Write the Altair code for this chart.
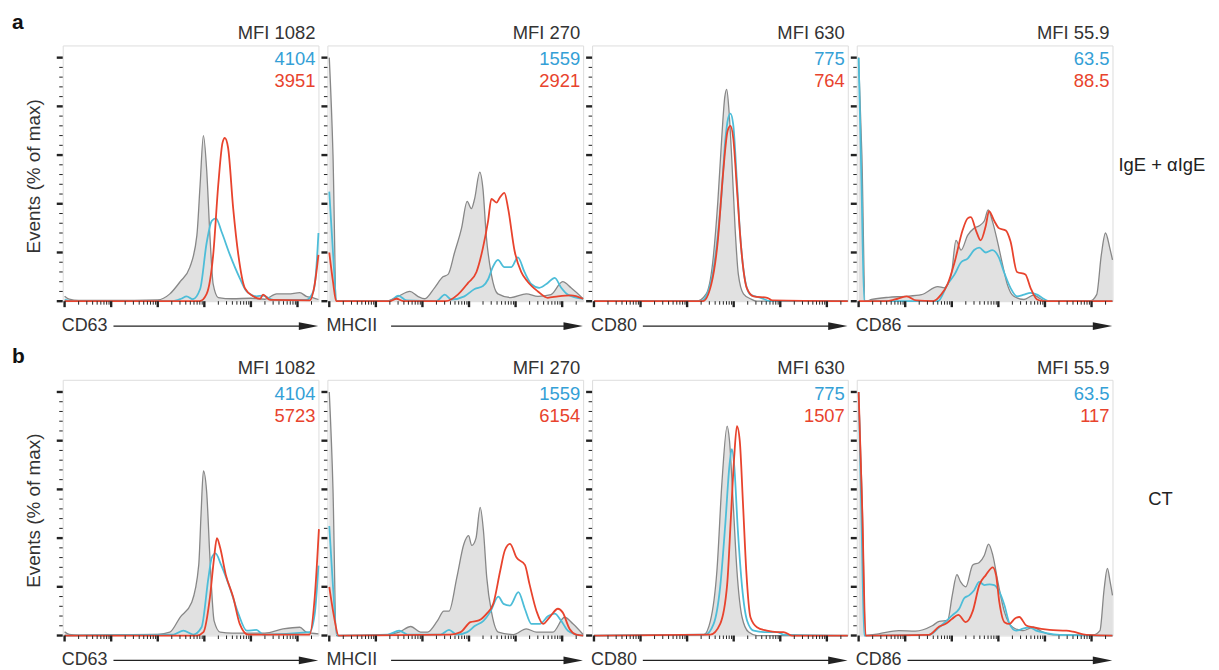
import math
import altair as alt
import pandas as pd

# ---------------- data (x in log10 decades, y in % of max) ----------------
MARKERS = ["CD63", "MHCII", "CD80", "CD86"]
MFI_CTRL = ["MFI 1082", "MFI 270", "MFI 630", "MFI 55.9"]
MFI_BLUE = ["4104", "1559", "775", "63.5"]
MFI_RED_A = ["3951", "2921", "764", "88.5"]
MFI_RED_B = ["5723", "6154", "1507", "117"]
ROW_TAGS = ["a", "b"]
ROW_LABELS = ["IgE + \u03b1IgE", "CT"]
Y_TITLE = "Events (% of max)"

A1_GRAY = [(0, 2), (0.1, 0.8), (0.3, 0.3), (1.5, 0.3), (2.0, 0.5), (2.26, 3), (2.48, 8), (2.69, 14), (2.84, 27),
           (2.91, 48), (2.98, 68), (3.05, 54), (3.12, 27), (3.19, 7), (3.3, 1.5), (3.6, 1), (4.0, 1.2), (4.3, 0.8),
           (4.55, 3), (4.8, 3), (5.05, 3.5), (5.19, 2), (5.34, 1.4), (5.45, 0.7)]
A1_BLUE = [(0, 0.5), (0.2, 0), (2.3, 0), (2.5, 1), (2.62, 2), (2.75, 0.8), (2.91, 5), (3.05, 24), (3.16, 33),
           (3.25, 34), (3.37, 28.5), (3.55, 19), (3.76, 9.5), (3.91, 4), (4.12, 2), (4.26, 2.3), (4.48, 0.5),
           (5.19, 0.5), (5.34, 4), (5.41, 15), (5.45, 28)]
A1_RED = [(0, 0), (2.9, 0), (3.05, 3), (3.19, 19), (3.3, 48), (3.39, 65), (3.44, 67), (3.51, 63), (3.62, 38),
          (3.73, 19), (3.87, 5.4), (4.05, 2), (4.2, 1), (4.26, 2.7), (4.41, 0.5), (5.26, 0.3), (5.37, 7), (5.45, 19)]

A2_GRAY = [(0, 100), (0.08, 60), (0.15, 0), (1.2, 0), (1.48, 2), (1.73, 4), (1.9, 2), (2.05, 1), (2.26, 5.5),
           (2.44, 10), (2.55, 11), (2.69, 20), (2.84, 30), (2.96, 41), (3.05, 38), (3.12, 42), (3.23, 53),
           (3.3, 46), (3.37, 27), (3.48, 11), (3.62, 3), (3.9, 1.5), (4.23, 3), (4.48, 2), (4.76, 2.7), (5.01, 8),
           (5.19, 5.5), (5.45, 1)]
A2_BLUE = [(0, 45), (0.08, 20), (0.16, 0), (1.3, 0), (1.48, 2.3), (1.66, 0.3), (2.3, 0), (2.48, 2.7), (2.62, 0.7),
           (2.9, 2), (3.12, 5), (3.3, 6.2), (3.41, 9), (3.51, 14), (3.62, 17), (3.76, 14), (3.91, 14), (4.05, 18),
           (4.19, 12), (4.34, 7), (4.51, 5.5), (4.69, 7.5), (4.84, 9.6), (4.98, 5.5), (5.12, 2.7), (5.45, 1)]
A2_RED = [(0, 20), (0.08, 8), (0.15, 0), (1.3, 0), (1.44, 1), (1.6, 0), (2.5, 0), (2.76, 2.7), (2.98, 7.5),
          (3.16, 12), (3.3, 22), (3.41, 33), (3.48, 42), (3.59, 40.5), (3.66, 42.5), (3.76, 44.5), (3.84, 38),
          (3.98, 20.5), (4.12, 12), (4.26, 8), (4.48, 4), (4.69, 1.4), (4.91, 2), (5.19, 2.4), (5.45, 1)]

A3_GRAY = [(0, 0), (2.2, 0), (2.41, 3), (2.55, 16), (2.66, 41), (2.74, 66), (2.81, 84), (2.85, 87), (2.9, 78),
           (2.96, 58), (3.03, 30), (3.1, 11), (3.21, 3), (3.36, 1), (3.5, 0), (5.45, 0)]
A3_BLUE = [(0, 0), (2.3, 0), (2.48, 5.5), (2.63, 22), (2.74, 44), (2.82, 66), (2.88, 75), (2.93, 77),
           (2.99, 72.5), (3.07, 49), (3.14, 27), (3.25, 8), (3.36, 2.7), (3.58, 1.4), (3.8, 0), (5.45, 0)]
A3_RED = [(0, 0), (2.34, 0), (2.52, 7), (2.66, 25), (2.77, 52), (2.87, 70), (2.93, 72), (2.99, 67), (3.07, 46),
          (3.16, 22), (3.28, 5.5), (3.43, 2), (3.72, 1.4), (3.83, 0.3), (5.45, 0)]

A4_GRAY = [(0, 100), (0.07, 60), (0.14, 0), (0.28, 0.7), (0.64, 1.6), (0.99, 2), (1.35, 2.7), (1.7, 6),
           (1.84, 5.5), (1.99, 11), (2.09, 25), (2.2, 21), (2.34, 27), (2.48, 30), (2.59, 31), (2.7, 33),
           (2.78, 37.5), (2.87, 33), (2.98, 24.6), (3.09, 15), (3.19, 7), (3.33, 2), (3.55, 0.7), (3.76, 2.5),
           (3.9, 1), (4.04, 0), (4.96, 0), (5.11, 2.7), (5.21, 19), (5.3, 28), (5.39, 22), (5.45, 17)]
A4_BLUE = [(0, 100), (0.06, 50), (0.12, 0), (1.7, 0), (1.91, 7), (2.06, 11), (2.2, 16), (2.34, 17.5), (2.48, 21),
           (2.59, 22), (2.73, 20), (2.87, 21), (3.01, 18), (3.12, 12), (3.26, 5.5), (3.4, 2), (3.55, 2.7),
           (3.69, 3.4), (3.83, 2.7), (3.97, 1), (4.1, 0), (5.45, 0)]
A4_RED = [(0, 0), (0.6, 0), (0.78, 0.7), (1.03, 2), (1.24, 0.3), (1.6, 0), (1.77, 2.7), (1.91, 7), (2.06, 16),
          (2.23, 29), (2.34, 34), (2.41, 34.5), (2.52, 29), (2.62, 25), (2.73, 31), (2.8, 37), (2.91, 33),
          (3.01, 30), (3.16, 29), (3.26, 24.6), (3.4, 12), (3.58, 11), (3.69, 5.5), (3.83, 0.7), (3.97, 0),
          (5.45, 0)]

B1_GRAY = [(0, 1.5), (0.1, 0.5), (0.3, 0.2), (2.0, 0.5), (2.26, 1.4), (2.48, 7.5), (2.73, 13.7), (2.88, 29),
           (2.93, 50), (2.98, 67.6), (3.05, 59), (3.12, 32), (3.21, 6), (3.34, 1.4), (3.6, 1), (4.3, 1),
           (4.69, 2.7), (5.05, 3.4), (5.19, 1.4), (5.45, 0.7)]
B1_BLUE = [(0, 0), (2.34, 0.4), (2.55, 2), (2.76, 0.4), (2.94, 3.4), (3.09, 24), (3.16, 32), (3.24, 33.7),
           (3.36, 29), (3.54, 20), (3.73, 9), (3.91, 2), (4.12, 2.3), (4.26, 0.4), (5.26, 1.4), (5.37, 8.9),
           (5.45, 28.7)]
B1_RED = [(0, 0), (2.84, 0), (2.98, 1.4), (3.12, 15.7), (3.21, 32), (3.27, 40), (3.34, 36), (3.46, 25),
          (3.62, 15.7), (3.76, 4.8), (3.94, 0.4), (5.26, 0.4), (5.37, 15.7), (5.46, 43.7)]

B2_GRAY = [(0, 100), (0.08, 60), (0.15, 0), (1.26, 0.4), (1.5, 1.4), (1.75, 3.7), (1.96, 1.4), (2.11, 1.4),
           (2.32, 6), (2.46, 10), (2.57, 10), (2.74, 24), (2.89, 37.6), (2.99, 41), (3.06, 37), (3.15, 40),
           (3.24, 52.6), (3.31, 43), (3.38, 24), (3.49, 9), (3.63, 1.4), (3.95, 0.4), (4.23, 2.7), (4.45, 1.4),
           (4.8, 1.4), (5.05, 7.5), (5.23, 4.8), (5.45, 0.4)]
B2_BLUE = [(0, 45), (0.08, 20), (0.17, 0), (1.26, 0.4), (1.5, 2), (1.68, 0.4), (2.39, 0.4), (2.57, 2.3),
           (2.74, 0.4), (2.96, 1.4), (3.13, 4), (3.31, 6), (3.45, 9.5), (3.63, 16), (3.74, 13), (3.88, 12.3),
           (4.06, 17.8), (4.2, 10.9), (4.34, 4.8), (4.52, 4.8), (4.7, 8), (4.84, 9), (4.98, 6), (5.12, 2),
           (5.3, 0.4), (5.45, 0)]
B2_RED = [(0, 20), (0.1, 8), (0.2, 0), (2.6, 0.4), (2.82, 1.4), (3.03, 5.5), (3.21, 6.2), (3.38, 9), (3.52, 13),
          (3.67, 26.6), (3.77, 35), (3.88, 37.6), (4.02, 32), (4.2, 29), (4.3, 21), (4.45, 10), (4.59, 4.8),
          (4.73, 7.5), (4.91, 11), (5.01, 9.5), (5.16, 2.7), (5.3, 0.4), (5.45, 0)]

B3_GRAY = [(0, 0), (2.36, 0.4), (2.5, 6), (2.64, 26.6), (2.75, 63.5), (2.86, 86), (2.91, 80), (2.99, 54),
           (3.07, 26.6), (3.18, 7.5), (3.32, 1.4), (3.5, 0), (5.45, 0)]
B3_BLUE = [(0, 0), (2.39, 0.4), (2.57, 4.8), (2.71, 20), (2.82, 45.8), (2.91, 70), (2.96, 76.5), (3.01, 70),
           (3.09, 43), (3.18, 20), (3.29, 6), (3.43, 2), (3.71, 1.4), (3.93, 1.4), (4.07, 0.4), (5.45, 0)]
B3_RED = [(0, 0), (2.5, 0.4), (2.71, 4.8), (2.86, 21), (2.94, 48.5), (3.01, 73), (3.07, 86), (3.13, 80),
          (3.2, 54), (3.27, 26.6), (3.36, 7.5), (3.5, 3.4), (3.71, 2), (3.93, 1.4), (4.07, 1.4), (4.25, 0),
          (5.45, 0)]

B4_GRAY = [(0, 100), (0.07, 60), (0.15, 0), (0.43, 0.7), (0.86, 2), (1.22, 1.8), (1.58, 4), (1.73, 5.8),
           (1.91, 6.2), (2.01, 16.5), (2.11, 25), (2.19, 22), (2.3, 20), (2.45, 29), (2.59, 30), (2.7, 33),
           (2.79, 37.5), (2.88, 33), (2.99, 22), (3.13, 9.7), (3.31, 3.4), (3.53, 2), (3.74, 3.4), (3.96, 1.4),
           (4.17, 0.3), (5.04, 0.3), (5.18, 2), (5.27, 19), (5.34, 27.6), (5.4, 22), (5.45, 16.5)]
B4_BLUE = [(0, 100), (0.06, 50), (0.12, 0), (1.51, 0.3), (1.73, 3.4), (2.01, 8.3), (2.16, 11), (2.27, 15.4),
           (2.37, 16.5), (2.48, 18.6), (2.59, 22), (2.7, 20.7), (2.81, 21), (2.91, 20.7), (3.02, 18),
           (3.13, 12.4), (3.24, 4.8), (3.38, 2), (3.53, 2.8), (3.67, 3.4), (3.81, 2), (4.03, 1), (4.32, 0.3),
           (5.45, 0)]
B4_RED = [(0, 100), (0.08, 50), (0.15, 0), (1.51, 0.3), (1.73, 3.7), (1.87, 4.8), (2.01, 6.9), (2.14, 8.5),
          (2.3, 5.5), (2.45, 10), (2.59, 20.7), (2.73, 24.8), (2.88, 28), (2.95, 24.8), (3.02, 13.8),
          (3.13, 5.5), (3.24, 4.8), (3.35, 6.9), (3.45, 7.6), (3.6, 4.1), (3.74, 3.4), (4.1, 2.3), (4.46, 2),
          (4.6, 1.6), (4.89, 0.3), (5.45, 0)]

# axis tick positions (decades) and % ticks
X_MAJOR = [0, 1, 2, 3, 4, 5]
X_MINOR_MULT = [2, 3, 4, 5, 6, 7, 8, 9]
Y_MAJOR = [0, 20, 40, 60, 80, 100]
Y_MINOR = [v for v in range(0, 101, 4) if v % 20 != 0]

# ---------------- styling ----------------
FONT = "Liberation Sans"
W, H = 257, 257
GRAY_FILL = "#d4d4d4"
GRAY_LINE = "#878787"
BLUE = "#4dbdd8"
BLUE_TXT = "#34a0d6"
RED = "#e8432d"
DARK = "#222222"
TXT = "#333333"
XMAX = 5.45

x_minor = [round(d + math.log10(k), 4) for d in X_MAJOR for k in X_MINOR_MULT if d + math.log10(k) <= XMAX]

XS = alt.Scale(domain=[-0.04, XMAX], nice=False, zero=False)
YS = alt.Scale(domain=[0, 105], nice=False, zero=False)


def sdf(pairs):
    return pd.DataFrame({"x": [p[0] for p in pairs], "y": [p[1] for p in pairs], "i": list(range(len(pairs)))})


def one(text):
    return pd.DataFrame({"t": [text]})


def vals(v):
    return pd.DataFrame({"v": v})


def ticks():
    out = []
    out.append(alt.Chart(vals(x_minor)).mark_rule(color=DARK, strokeWidth=1).encode(
        x=alt.X("v:Q", scale=XS, axis=None), y=alt.value(H), y2=alt.value(H + 3.5)))
    out.append(alt.Chart(vals(X_MAJOR)).mark_rule(color=DARK, strokeWidth=2.4).encode(
        x=alt.X("v:Q", scale=XS, axis=None), y=alt.value(H), y2=alt.value(H + 6)))
    out.append(alt.Chart(vals(Y_MINOR)).mark_rule(color=DARK, strokeWidth=1).encode(
        y=alt.Y("v:Q", scale=YS, axis=None), x=alt.value(-3.5), x2=alt.value(0)))
    out.append(alt.Chart(vals(Y_MAJOR)).mark_rule(color=DARK, strokeWidth=2.4).encode(
        y=alt.Y("v:Q", scale=YS, axis=None), x=alt.value(-6), x2=alt.value(0)))
    return out


def panel(gray, blue, red, idx, red_txt, first, row):
    layers = []
    layers.append(alt.Chart(sdf(gray)).mark_area(interpolate="monotone", color=GRAY_FILL,
                                                 line={"color": GRAY_LINE, "strokeWidth": 1.3}).encode(
        x=alt.X("x:Q", scale=XS, axis=None),
        y=alt.Y("y:Q", scale=YS, axis=None, stack=None)))
    layers.append(alt.Chart(sdf(blue)).mark_line(interpolate="monotone", color=BLUE, strokeWidth=1.8).encode(
        x=alt.X("x:Q", scale=XS, axis=None), y=alt.Y("y:Q", scale=YS, axis=None), order="i:Q"))
    layers.append(alt.Chart(sdf(red)).mark_line(interpolate="monotone", color=RED, strokeWidth=1.8).encode(
        x=alt.X("x:Q", scale=XS, axis=None), y=alt.Y("y:Q", scale=YS, axis=None), order="i:Q"))
    layers += ticks()
    # MFI labels
    layers.append(alt.Chart(one(MFI_CTRL[idx])).mark_text(align="right", baseline="alphabetic", font=FONT,
                                                         fontSize=18.5, color=TXT).encode(
        x=alt.value(W - 3), y=alt.value(-6), text="t:N"))
    layers.append(alt.Chart(one(MFI_BLUE[idx])).mark_text(align="right", baseline="middle", font=FONT,
                                                         fontSize=18.5, color=BLUE_TXT).encode(
        x=alt.value(W - 3), y=alt.value(14), text="t:N"))
    layers.append(alt.Chart(one(red_txt)).mark_text(align="right", baseline="middle", font=FONT,
                                                    fontSize=18.5, color=RED).encode(
        x=alt.value(W - 3), y=alt.value(36), text="t:N"))
    # axis label with arrow
    label = MARKERS[idx]
    layers.append(alt.Chart(one(label)).mark_text(align="left", baseline="middle", font=FONT, fontSize=18,
                                                  color=TXT).encode(
        x=alt.value(-1), y=alt.value(H + 25), text="t:N"))
    start = 51 if label != "MHCII" else 64
    layers.append(alt.Chart(one(label)).mark_rule(color=DARK, strokeWidth=1.2).encode(
        x=alt.value(start), x2=alt.value(W - 16), y=alt.value(H + 25)))
    layers.append(alt.Chart(one(label)).mark_point(shape="M-1,-0.4L1,0L-1,0.4Z", filled=True, size=380,
                                                   color=DARK, opacity=1, strokeWidth=0).encode(
        x=alt.value(W - 10), y=alt.value(H + 25)))
    if first:
        layers.append(alt.Chart(one(Y_TITLE)).mark_text(angle=270, align="center", baseline="middle", font=FONT,
                                                        fontSize=19, color=TXT).encode(
            x=alt.value(-29), y=alt.value(H / 2 + 3), text="t:N"))
        layers.append(alt.Chart(one(ROW_TAGS[row])).mark_text(align="left", baseline="middle", font=FONT,
                                                              fontSize=21, fontWeight="bold",
                                                              color="#111111").encode(
            x=alt.value(-51), y=alt.value(-23), text="t:N"))
    if idx == 3:
        dx = 6 if row == 0 else 36
        layers.append(alt.Chart(one(ROW_LABELS[row])).mark_text(align="left", baseline="middle", font=FONT,
                                                                fontSize=18.5, color="#222222").encode(
            x=alt.value(W + dx), y=alt.value(120), text="t:N"))
    return alt.layer(*layers).properties(width=W, height=H)


row_a_data = [(A1_GRAY, A1_BLUE, A1_RED), (A2_GRAY, A2_BLUE, A2_RED),
              (A3_GRAY, A3_BLUE, A3_RED), (A4_GRAY, A4_BLUE, A4_RED)]
row_b_data = [(B1_GRAY, B1_BLUE, B1_RED), (B2_GRAY, B2_BLUE, B2_RED),
              (B3_GRAY, B3_BLUE, B3_RED), (B4_GRAY, B4_BLUE, B4_RED)]

row_a = alt.hconcat(*[panel(g, b, r, i, MFI_RED_A[i], i == 0, 0) for i, (g, b, r) in enumerate(row_a_data)],
                    spacing=9, bounds="flush")
row_b = alt.hconcat(*[panel(g, b, r, i, MFI_RED_B[i], i == 0, 1) for i, (g, b, r) in enumerate(row_b_data)],
                    spacing=9, bounds="flush")

chart = alt.vconcat(row_a, row_b, spacing=9).properties(
    padding={"left": 3, "top": 1, "right": 5, "bottom": 0}
).configure_view(stroke="#9c9c9c", strokeWidth=1).configure(background="white", font=FONT)

chart.save("out.html", embed_options={"renderer": "svg", "actions": False})
